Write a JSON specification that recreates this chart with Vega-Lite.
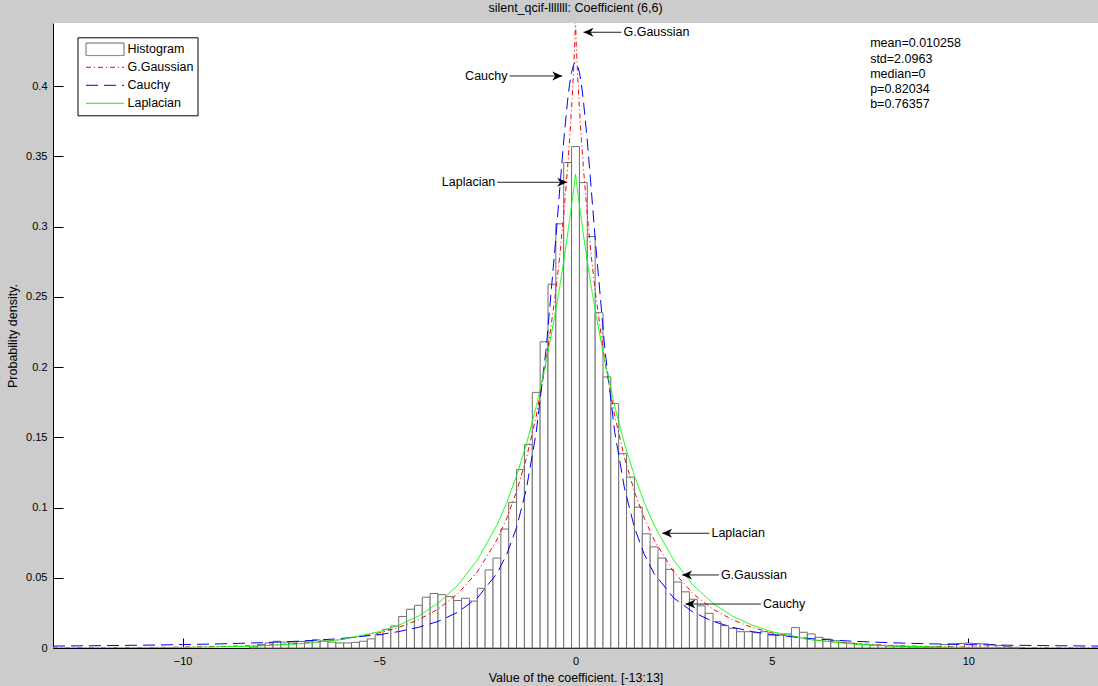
{
  "$schema": "https://vega.github.io/schema/vega-lite/v6.json",
  "autosize": {"type": "none"},
  "width": 1045,
  "height": 625,
  "padding": {"left": 53, "top": 23, "right": 0, "bottom": 38},
  "background": "#cccccc",
  "title": {"text": "silent_qcif-lllllll: Coefficient (6,6)", "fontSize": 12.5, "fontWeight": "normal", "font": "Liberation Sans", "color": "black", "anchor": "middle", "baseline": "bottom", "offset": 6, "dy": 10, "frame": "group"},
  "config": {
    "font": "Liberation Sans",
    "view": {"fill": "white", "stroke": null}
  },
  "datasets": {
    "hist": [
      {"lo": -8.3, "hi": -8.1, "d": 0.0008}, {"lo": -8.1, "hi": -7.9, "d": 0.0024}, {"lo": -7.9, "hi": -7.7, "d": 0.0036},
      {"lo": -7.7, "hi": -7.5, "d": 0.0048}, {"lo": -7.5, "hi": -7.3, "d": 0.0042}, {"lo": -7.3, "hi": -7.1, "d": 0.0036},
      {"lo": -7.1, "hi": -6.9, "d": 0.0046}, {"lo": -6.9, "hi": -6.7, "d": 0.005}, {"lo": -6.7, "hi": -6.5, "d": 0.0058},
      {"lo": -6.5, "hi": -6.3, "d": 0.005}, {"lo": -6.3, "hi": -6.1, "d": 0.0042}, {"lo": -6.1, "hi": -5.9, "d": 0.0036},
      {"lo": -5.9, "hi": -5.7, "d": 0.0036}, {"lo": -5.7, "hi": -5.5, "d": 0.004}, {"lo": -5.5, "hi": -5.3, "d": 0.0048},
      {"lo": -5.3, "hi": -5.1, "d": 0.0065}, {"lo": -5.1, "hi": -4.9, "d": 0.0095}, {"lo": -4.9, "hi": -4.7, "d": 0.0133},
      {"lo": -4.7, "hi": -4.5, "d": 0.0157}, {"lo": -4.5, "hi": -4.3, "d": 0.0224}, {"lo": -4.3, "hi": -4.1, "d": 0.0276},
      {"lo": -4.1, "hi": -3.9, "d": 0.0304}, {"lo": -3.9, "hi": -3.7, "d": 0.0362}, {"lo": -3.7, "hi": -3.5, "d": 0.0388},
      {"lo": -3.5, "hi": -3.3, "d": 0.038}, {"lo": -3.3, "hi": -3.1, "d": 0.0366}, {"lo": -3.1, "hi": -2.9, "d": 0.0338},
      {"lo": -2.9, "hi": -2.7, "d": 0.0354}, {"lo": -2.7, "hi": -2.5, "d": 0.0334}, {"lo": -2.5, "hi": -2.3, "d": 0.0425},
      {"lo": -2.3, "hi": -2.1, "d": 0.0556}, {"lo": -2.1, "hi": -1.9, "d": 0.064}, {"lo": -1.9, "hi": -1.7, "d": 0.0847},
      {"lo": -1.7, "hi": -1.5, "d": 0.1037}, {"lo": -1.5, "hi": -1.3, "d": 0.127}, {"lo": -1.3, "hi": -1.1, "d": 0.1448},
      {"lo": -1.1, "hi": -0.9, "d": 0.182}, {"lo": -0.9, "hi": -0.7, "d": 0.218}, {"lo": -0.7, "hi": -0.5, "d": 0.259},
      {"lo": -0.5, "hi": -0.3, "d": 0.302}, {"lo": -0.3, "hi": -0.1, "d": 0.3457}, {"lo": -0.1, "hi": 0.1, "d": 0.357},
      {"lo": 0.1, "hi": 0.3, "d": 0.3314}, {"lo": 0.3, "hi": 0.5, "d": 0.293}, {"lo": 0.5, "hi": 0.7, "d": 0.2387},
      {"lo": 0.7, "hi": 0.9, "d": 0.193}, {"lo": 0.9, "hi": 1.1, "d": 0.174}, {"lo": 1.1, "hi": 1.3, "d": 0.1384},
      {"lo": 1.3, "hi": 1.5, "d": 0.1217}, {"lo": 1.5, "hi": 1.7, "d": 0.1003}, {"lo": 1.7, "hi": 1.9, "d": 0.0813},
      {"lo": 1.9, "hi": 2.1, "d": 0.072}, {"lo": 2.1, "hi": 2.3, "d": 0.064}, {"lo": 2.3, "hi": 2.5, "d": 0.056},
      {"lo": 2.5, "hi": 2.7, "d": 0.047}, {"lo": 2.7, "hi": 2.9, "d": 0.04}, {"lo": 2.9, "hi": 3.1, "d": 0.0347},
      {"lo": 3.1, "hi": 3.3, "d": 0.03}, {"lo": 3.3, "hi": 3.5, "d": 0.0247}, {"lo": 3.5, "hi": 3.7, "d": 0.0188},
      {"lo": 3.7, "hi": 3.9, "d": 0.0159}, {"lo": 3.9, "hi": 4.1, "d": 0.014}, {"lo": 4.1, "hi": 4.3, "d": 0.0116},
      {"lo": 4.3, "hi": 4.5, "d": 0.0116}, {"lo": 4.5, "hi": 4.7, "d": 0.0109}, {"lo": 4.7, "hi": 4.9, "d": 0.0116},
      {"lo": 4.9, "hi": 5.1, "d": 0.0093}, {"lo": 5.1, "hi": 5.3, "d": 0.0093}, {"lo": 5.3, "hi": 5.5, "d": 0.01},
      {"lo": 5.5, "hi": 5.7, "d": 0.0145}, {"lo": 5.7, "hi": 5.9, "d": 0.0112}, {"lo": 5.9, "hi": 6.1, "d": 0.01},
      {"lo": 6.1, "hi": 6.3, "d": 0.0076}, {"lo": 6.3, "hi": 6.5, "d": 0.0064}, {"lo": 6.5, "hi": 6.7, "d": 0.0052},
      {"lo": 6.7, "hi": 6.9, "d": 0.004}, {"lo": 6.9, "hi": 7.1, "d": 0.0035}, {"lo": 7.1, "hi": 7.3, "d": 0.0028},
      {"lo": 7.3, "hi": 7.5, "d": 0.0024}, {"lo": 7.5, "hi": 7.7, "d": 0.002}, {"lo": 7.7, "hi": 7.9, "d": 0.0017},
      {"lo": 7.9, "hi": 8.1, "d": 0.0015}, {"lo": 8.1, "hi": 8.3, "d": 0.0012}, {"lo": 8.3, "hi": 8.5, "d": 0.001},
      {"lo": 8.5, "hi": 8.7, "d": 0.0008}, {"lo": 8.7, "hi": 8.9, "d": 0.0008}, {"lo": 8.9, "hi": 9.1, "d": 0.0006},
      {"lo": 9.1, "hi": 9.3, "d": 0.0008}, {"lo": 9.3, "hi": 9.5, "d": 0.0025}, {"lo": 9.5, "hi": 9.7, "d": 0.003},
      {"lo": 9.7, "hi": 9.9, "d": 0.0032}, {"lo": 9.9, "hi": 10.1, "d": 0.0035}, {"lo": 10.1, "hi": 10.3, "d": 0.0032},
      {"lo": 10.3, "hi": 10.5, "d": 0.003}, {"lo": 10.5, "hi": 10.7, "d": 0.0025}, {"lo": 10.7, "hi": 10.9, "d": 0.0018},
      {"lo": 10.9, "hi": 11.1, "d": 0.001}, {"lo": 11.1, "hi": 11.3, "d": 0.0005}
    ],
    "curves": [
      {"series": "G.Gaussian", "v": -13.3, "p": 0.00011}, {"series": "G.Gaussian", "v": -12, "p": 0.00021}, {"series": "G.Gaussian", "v": -11, "p": 0.00036},
      {"series": "G.Gaussian", "v": -10, "p": 0.00062}, {"series": "G.Gaussian", "v": -9, "p": 0.00107}, {"series": "G.Gaussian", "v": -8, "p": 0.00186},
      {"series": "G.Gaussian", "v": -7, "p": 0.00328}, {"series": "G.Gaussian", "v": -6, "p": 0.00588}, {"series": "G.Gaussian", "v": -5, "p": 0.01074},
      {"series": "G.Gaussian", "v": -4.5, "p": 0.01462}, {"series": "G.Gaussian", "v": -4, "p": 0.02003}, {"series": "G.Gaussian", "v": -3.5, "p": 0.02765},
      {"series": "G.Gaussian", "v": -3, "p": 0.0385}, {"series": "G.Gaussian", "v": -2.5, "p": 0.0541}, {"series": "G.Gaussian", "v": -2, "p": 0.077},
      {"series": "G.Gaussian", "v": -1.75, "p": 0.0924}, {"series": "G.Gaussian", "v": -1.5, "p": 0.1114}, {"series": "G.Gaussian", "v": -1.25, "p": 0.1351},
      {"series": "G.Gaussian", "v": -1, "p": 0.1651}, {"series": "G.Gaussian", "v": -0.75, "p": 0.2035}, {"series": "G.Gaussian", "v": -0.5, "p": 0.2542},
      {"series": "G.Gaussian", "v": -0.4, "p": 0.2794}, {"series": "G.Gaussian", "v": -0.3, "p": 0.3083}, {"series": "G.Gaussian", "v": -0.2, "p": 0.3424},
      {"series": "G.Gaussian", "v": -0.15, "p": 0.3621}, {"series": "G.Gaussian", "v": -0.1, "p": 0.3843}, {"series": "G.Gaussian", "v": -0.05, "p": 0.4102},
      {"series": "G.Gaussian", "v": -0.02, "p": 0.4292}, {"series": "G.Gaussian", "v": 0, "p": 0.4468},
      {"series": "G.Gaussian", "v": 0.02, "p": 0.4292}, {"series": "G.Gaussian", "v": 0.05, "p": 0.4102}, {"series": "G.Gaussian", "v": 0.1, "p": 0.3843},
      {"series": "G.Gaussian", "v": 0.15, "p": 0.3621}, {"series": "G.Gaussian", "v": 0.2, "p": 0.3424}, {"series": "G.Gaussian", "v": 0.3, "p": 0.3083},
      {"series": "G.Gaussian", "v": 0.4, "p": 0.2794}, {"series": "G.Gaussian", "v": 0.5, "p": 0.2542}, {"series": "G.Gaussian", "v": 0.75, "p": 0.2035},
      {"series": "G.Gaussian", "v": 1, "p": 0.1651}, {"series": "G.Gaussian", "v": 1.25, "p": 0.1351}, {"series": "G.Gaussian", "v": 1.5, "p": 0.1114},
      {"series": "G.Gaussian", "v": 1.75, "p": 0.0924}, {"series": "G.Gaussian", "v": 2, "p": 0.077}, {"series": "G.Gaussian", "v": 2.5, "p": 0.0541},
      {"series": "G.Gaussian", "v": 3, "p": 0.0385}, {"series": "G.Gaussian", "v": 3.5, "p": 0.02765}, {"series": "G.Gaussian", "v": 4, "p": 0.02003},
      {"series": "G.Gaussian", "v": 4.5, "p": 0.01462}, {"series": "G.Gaussian", "v": 5, "p": 0.01074}, {"series": "G.Gaussian", "v": 6, "p": 0.00588},
      {"series": "G.Gaussian", "v": 7, "p": 0.00328}, {"series": "G.Gaussian", "v": 8, "p": 0.00186}, {"series": "G.Gaussian", "v": 9, "p": 0.00107},
      {"series": "G.Gaussian", "v": 10, "p": 0.00062}, {"series": "G.Gaussian", "v": 11, "p": 0.00036}, {"series": "G.Gaussian", "v": 12, "p": 0.00021},
      {"series": "G.Gaussian", "v": 13.3, "p": 0.00011},

      {"series": "Cauchy", "v": -13.3, "p": 0.00137}, {"series": "Cauchy", "v": -12, "p": 0.00168}, {"series": "Cauchy", "v": -11, "p": 0.002},
      {"series": "Cauchy", "v": -10, "p": 0.00242}, {"series": "Cauchy", "v": -9, "p": 0.00298}, {"series": "Cauchy", "v": -8, "p": 0.00376},
      {"series": "Cauchy", "v": -7, "p": 0.0049}, {"series": "Cauchy", "v": -6, "p": 0.00664}, {"series": "Cauchy", "v": -5, "p": 0.0095},
      {"series": "Cauchy", "v": -4.5, "p": 0.0117}, {"series": "Cauchy", "v": -4, "p": 0.0147}, {"series": "Cauchy", "v": -3.5, "p": 0.0189},
      {"series": "Cauchy", "v": -3, "p": 0.0254}, {"series": "Cauchy", "v": -2.5, "p": 0.0356}, {"series": "Cauchy", "v": -2, "p": 0.053},
      {"series": "Cauchy", "v": -1.75, "p": 0.0667}, {"series": "Cauchy", "v": -1.5, "p": 0.0858}, {"series": "Cauchy", "v": -1.25, "p": 0.1133},
      {"series": "Cauchy", "v": -1, "p": 0.1535}, {"series": "Cauchy", "v": -0.75, "p": 0.2122}, {"series": "Cauchy", "v": -0.5, "p": 0.2918},
      {"series": "Cauchy", "v": -0.4, "p": 0.3271}, {"series": "Cauchy", "v": -0.3, "p": 0.3611}, {"series": "Cauchy", "v": -0.2, "p": 0.3901},
      {"series": "Cauchy", "v": -0.15, "p": 0.4014}, {"series": "Cauchy", "v": -0.1, "p": 0.4098}, {"series": "Cauchy", "v": -0.05, "p": 0.4151},
      {"series": "Cauchy", "v": -0.02, "p": 0.4166}, {"series": "Cauchy", "v": 0, "p": 0.4169},
      {"series": "Cauchy", "v": 0.02, "p": 0.4166}, {"series": "Cauchy", "v": 0.05, "p": 0.4151}, {"series": "Cauchy", "v": 0.1, "p": 0.4098},
      {"series": "Cauchy", "v": 0.15, "p": 0.4014}, {"series": "Cauchy", "v": 0.2, "p": 0.3901}, {"series": "Cauchy", "v": 0.3, "p": 0.3611},
      {"series": "Cauchy", "v": 0.4, "p": 0.3271}, {"series": "Cauchy", "v": 0.5, "p": 0.2918}, {"series": "Cauchy", "v": 0.75, "p": 0.2122},
      {"series": "Cauchy", "v": 1, "p": 0.1535}, {"series": "Cauchy", "v": 1.25, "p": 0.1133}, {"series": "Cauchy", "v": 1.5, "p": 0.0858},
      {"series": "Cauchy", "v": 1.75, "p": 0.0667}, {"series": "Cauchy", "v": 2, "p": 0.053}, {"series": "Cauchy", "v": 2.5, "p": 0.0356},
      {"series": "Cauchy", "v": 3, "p": 0.0254}, {"series": "Cauchy", "v": 3.5, "p": 0.0189}, {"series": "Cauchy", "v": 4, "p": 0.0147},
      {"series": "Cauchy", "v": 4.5, "p": 0.0117}, {"series": "Cauchy", "v": 5, "p": 0.0095}, {"series": "Cauchy", "v": 6, "p": 0.00664},
      {"series": "Cauchy", "v": 7, "p": 0.0049}, {"series": "Cauchy", "v": 8, "p": 0.00376}, {"series": "Cauchy", "v": 9, "p": 0.00298},
      {"series": "Cauchy", "v": 10, "p": 0.00242}, {"series": "Cauchy", "v": 11, "p": 0.002}, {"series": "Cauchy", "v": 12, "p": 0.00168},
      {"series": "Cauchy", "v": 13.3, "p": 0.00137},

      {"series": "Laplacian", "v": -13.3, "p": 0.00004}, {"series": "Laplacian", "v": -12, "p": 0.0001}, {"series": "Laplacian", "v": -11, "p": 0.0002},
      {"series": "Laplacian", "v": -10, "p": 0.0004}, {"series": "Laplacian", "v": -9, "p": 0.00078}, {"series": "Laplacian", "v": -8, "p": 0.00153},
      {"series": "Laplacian", "v": -7, "p": 0.003}, {"series": "Laplacian", "v": -6, "p": 0.00589}, {"series": "Laplacian", "v": -5, "p": 0.01157},
      {"series": "Laplacian", "v": -4.5, "p": 0.0162}, {"series": "Laplacian", "v": -4, "p": 0.0227}, {"series": "Laplacian", "v": -3.5, "p": 0.0318},
      {"series": "Laplacian", "v": -3, "p": 0.0446}, {"series": "Laplacian", "v": -2.5, "p": 0.0625}, {"series": "Laplacian", "v": -2, "p": 0.0875},
      {"series": "Laplacian", "v": -1.75, "p": 0.1036}, {"series": "Laplacian", "v": -1.5, "p": 0.1226}, {"series": "Laplacian", "v": -1.25, "p": 0.1451},
      {"series": "Laplacian", "v": -1, "p": 0.1718}, {"series": "Laplacian", "v": -0.75, "p": 0.2034}, {"series": "Laplacian", "v": -0.5, "p": 0.2407},
      {"series": "Laplacian", "v": -0.4, "p": 0.2575}, {"series": "Laplacian", "v": -0.3, "p": 0.2755}, {"series": "Laplacian", "v": -0.2, "p": 0.2947},
      {"series": "Laplacian", "v": -0.15, "p": 0.3049}, {"series": "Laplacian", "v": -0.1, "p": 0.3153}, {"series": "Laplacian", "v": -0.05, "p": 0.3261},
      {"series": "Laplacian", "v": -0.02, "p": 0.3328}, {"series": "Laplacian", "v": 0, "p": 0.3373},
      {"series": "Laplacian", "v": 0.02, "p": 0.3328}, {"series": "Laplacian", "v": 0.05, "p": 0.3261}, {"series": "Laplacian", "v": 0.1, "p": 0.3153},
      {"series": "Laplacian", "v": 0.15, "p": 0.3049}, {"series": "Laplacian", "v": 0.2, "p": 0.2947}, {"series": "Laplacian", "v": 0.3, "p": 0.2755},
      {"series": "Laplacian", "v": 0.4, "p": 0.2575}, {"series": "Laplacian", "v": 0.5, "p": 0.2407}, {"series": "Laplacian", "v": 0.75, "p": 0.2034},
      {"series": "Laplacian", "v": 1, "p": 0.1718}, {"series": "Laplacian", "v": 1.25, "p": 0.1451}, {"series": "Laplacian", "v": 1.5, "p": 0.1226},
      {"series": "Laplacian", "v": 1.75, "p": 0.1036}, {"series": "Laplacian", "v": 2, "p": 0.0875}, {"series": "Laplacian", "v": 2.5, "p": 0.0625},
      {"series": "Laplacian", "v": 3, "p": 0.0446}, {"series": "Laplacian", "v": 3.5, "p": 0.0318}, {"series": "Laplacian", "v": 4, "p": 0.0227},
      {"series": "Laplacian", "v": 4.5, "p": 0.0162}, {"series": "Laplacian", "v": 5, "p": 0.01157}, {"series": "Laplacian", "v": 6, "p": 0.00589},
      {"series": "Laplacian", "v": 7, "p": 0.003}, {"series": "Laplacian", "v": 8, "p": 0.00153}, {"series": "Laplacian", "v": 9, "p": 0.00078},
      {"series": "Laplacian", "v": 10, "p": 0.0004}, {"series": "Laplacian", "v": 11, "p": 0.0002}, {"series": "Laplacian", "v": 12, "p": 0.0001},
      {"series": "Laplacian", "v": 13.3, "p": 0.00004}
    ],
    "ann": [
      {"label": "G.Gaussian", "side": "L", "tip": 0.204, "end": 1.17, "ty": 0.4384},
      {"label": "Cauchy", "side": "R", "tip": -0.338, "end": -1.68, "ty": 0.4073},
      {"label": "Laplacian", "side": "R", "tip": -0.211, "end": -1.99, "ty": 0.3316},
      {"label": "Laplacian", "side": "L", "tip": 2.206, "end": 3.41, "ty": 0.0817},
      {"label": "G.Gaussian", "side": "L", "tip": 2.715, "end": 3.65, "ty": 0.052},
      {"label": "Cauchy", "side": "L", "tip": 2.799, "end": 4.72, "ty": 0.0313}
    ],
    "stats": [
      {"line": "mean=0.010258", "v": 7.5, "p": 0.4305},
      {"line": "std=2.0963", "v": 7.5, "p": 0.4197},
      {"line": "median=0", "v": 7.5, "p": 0.409},
      {"line": "p=0.82034", "v": 7.5, "p": 0.3983},
      {"line": "b=0.76357", "v": 7.5, "p": 0.3876}
    ]
  },
  "layer": [
    {
      "data": {"name": "hist"},
      "mark": {"type": "bar", "fill": "white", "stroke": "#707070", "strokeWidth": 1},
      "encoding": {
        "x": {"field": "lo", "type": "quantitative",
          "scale": {"domain": [-13.3, 13.3], "nice": false, "zero": false},
          "axis": {"title": "Value of the coefficient. [-13:13]", "values": [-10, -5, 0, 5, 10], "format": "d", "grid": false,
            "domainColor": "black", "tickColor": "black", "tickSize": -10, "labelPadding": 17, "labelFontSize": 11, "labelColor": "black",
            "labelFont": "Liberation Sans", "titleFont": "Liberation Sans", "titleFontSize": 12.5, "titleFontWeight": "normal", "titleColor": "black",
            "titleX": 522.5, "titleY": 33, "titleBaseline": "alphabetic", "titleAlign": "center"}},
        "x2": {"field": "hi"},
        "y": {"field": "d", "type": "quantitative",
          "scale": {"domain": [0, 0.445], "nice": false},
          "axis": {"title": "Probability density.", "values": [0, 0.05, 0.1, 0.15, 0.2, 0.25, 0.3, 0.35, 0.4], "format": ".2~f", "grid": false,
            "domainColor": "black", "tickColor": "black", "tickSize": -10, "labelPadding": 16, "labelFontSize": 11, "labelColor": "black",
            "labelFont": "Liberation Sans", "titleFont": "Liberation Sans", "titleFontSize": 12.5, "titleFontWeight": "normal", "titleColor": "black",
            "titleX": -37, "titleY": 312.5, "titleAngle": -90, "titleBaseline": "alphabetic", "titleAlign": "center"}},
        "y2": {"datum": 0}
      }
    },
    {
      "data": {"name": "curves"},
      "mark": {"type": "line", "strokeWidth": 1, "clip": true},
      "encoding": {
        "x": {"field": "v", "type": "quantitative", "scale": {"domain": [-13.3, 13.3], "nice": false, "zero": false}},
        "y": {"field": "p", "type": "quantitative", "scale": {"domain": [0, 0.445], "nice": false}},
        "stroke": {"field": "series", "type": "nominal",
          "scale": {"domain": ["Histogram", "G.Gaussian", "Cauchy", "Laplacian"], "range": ["#666666", "#ff0000", "#0000ff", "#00ff00"]},
          "legend": {"title": null, "orient": "none", "legendX": 24.5, "legendY": 14.3, "fillColor": "white", "strokeColor": "black",
            "padding": 3, "symbolType": "stroke", "symbolSize": 1444, "symbolStrokeWidth": 1, "labelFontSize": 12.5, "labelFont": "Liberation Sans",
            "labelColor": "black", "labelOffset": 3, "clipHeight": 18, "rowPadding": 0, "symbolOffset": 5,
            "encode": {"symbols": {"update": {"shape": {"signal": "datum.value === 'Histogram' ? 'M-1,-0.33H1V0.33H-1Z' : 'stroke'"}}}}}},
        "strokeDash": {"field": "series", "type": "nominal",
          "scale": {"domain": ["Histogram", "G.Gaussian", "Cauchy", "Laplacian"], "range": [[1, 0], [5, 3, 1, 3], [12, 6], [1, 0]]},
          "legend": {"title": null, "orient": "none", "legendX": 24.5, "legendY": 14.3, "fillColor": "white", "strokeColor": "black",
            "padding": 3, "symbolType": "stroke", "symbolSize": 1444, "symbolStrokeWidth": 1, "labelFontSize": 12.5, "labelFont": "Liberation Sans",
            "labelColor": "black", "labelOffset": 3, "clipHeight": 18, "rowPadding": 0, "symbolOffset": 5,
            "encode": {"symbols": {"update": {"shape": {"signal": "datum.value === 'Histogram' ? 'M-1,-0.33H1V0.33H-1Z' : 'stroke'"}}}}}}
      }
    },
    {
      "data": {"name": "ann"},
      "mark": {"type": "rule", "color": "#222222", "strokeWidth": 1},
      "encoding": {
        "x": {"field": "tip", "type": "quantitative", "scale": {"domain": [-13.3, 13.3], "nice": false, "zero": false}},
        "x2": {"field": "end"},
        "y": {"field": "ty", "type": "quantitative", "scale": {"domain": [0, 0.445], "nice": false}}
      }
    },
    {
      "data": {"name": "ann"},
      "transform": [{"filter": "datum.side === 'L'"}],
      "mark": {"type": "point", "shape": "M0,0L1,-0.45L0.7,0L1,0.45Z", "size": 400, "filled": true, "color": "black", "opacity": 1, "strokeWidth": 0},
      "encoding": {
        "x": {"field": "tip", "type": "quantitative", "scale": {"domain": [-13.3, 13.3], "nice": false, "zero": false}},
        "y": {"field": "ty", "type": "quantitative", "scale": {"domain": [0, 0.445], "nice": false}}
      }
    },
    {
      "data": {"name": "ann"},
      "transform": [{"filter": "datum.side === 'R'"}],
      "mark": {"type": "point", "shape": "M0,0L-1,-0.45L-0.7,0L-1,0.45Z", "size": 400, "filled": true, "color": "black", "opacity": 1, "strokeWidth": 0},
      "encoding": {
        "x": {"field": "tip", "type": "quantitative", "scale": {"domain": [-13.3, 13.3], "nice": false, "zero": false}},
        "y": {"field": "ty", "type": "quantitative", "scale": {"domain": [0, 0.445], "nice": false}}
      }
    },
    {
      "data": {"name": "ann"},
      "transform": [{"filter": "datum.side === 'L'"}],
      "mark": {"type": "text", "align": "left", "baseline": "middle", "dx": 2, "fontSize": 12.5, "font": "Liberation Sans", "color": "black"},
      "encoding": {
        "x": {"field": "end", "type": "quantitative", "scale": {"domain": [-13.3, 13.3], "nice": false, "zero": false}},
        "y": {"field": "ty", "type": "quantitative", "scale": {"domain": [0, 0.445], "nice": false}},
        "text": {"field": "label"}
      }
    },
    {
      "data": {"name": "ann"},
      "transform": [{"filter": "datum.side === 'R'"}],
      "mark": {"type": "text", "align": "right", "baseline": "middle", "dx": -2, "fontSize": 12.5, "font": "Liberation Sans", "color": "black"},
      "encoding": {
        "x": {"field": "end", "type": "quantitative", "scale": {"domain": [-13.3, 13.3], "nice": false, "zero": false}},
        "y": {"field": "ty", "type": "quantitative", "scale": {"domain": [0, 0.445], "nice": false}},
        "text": {"field": "label"}
      }
    },
    {
      "data": {"name": "stats"},
      "mark": {"type": "text", "align": "left", "baseline": "middle", "fontSize": 12.5, "font": "Liberation Sans", "color": "black"},
      "encoding": {
        "x": {"field": "v", "type": "quantitative", "scale": {"domain": [-13.3, 13.3], "nice": false, "zero": false}},
        "y": {"field": "p", "type": "quantitative", "scale": {"domain": [0, 0.445], "nice": false}},
        "text": {"field": "line"}
      }
    }
  ]
}
